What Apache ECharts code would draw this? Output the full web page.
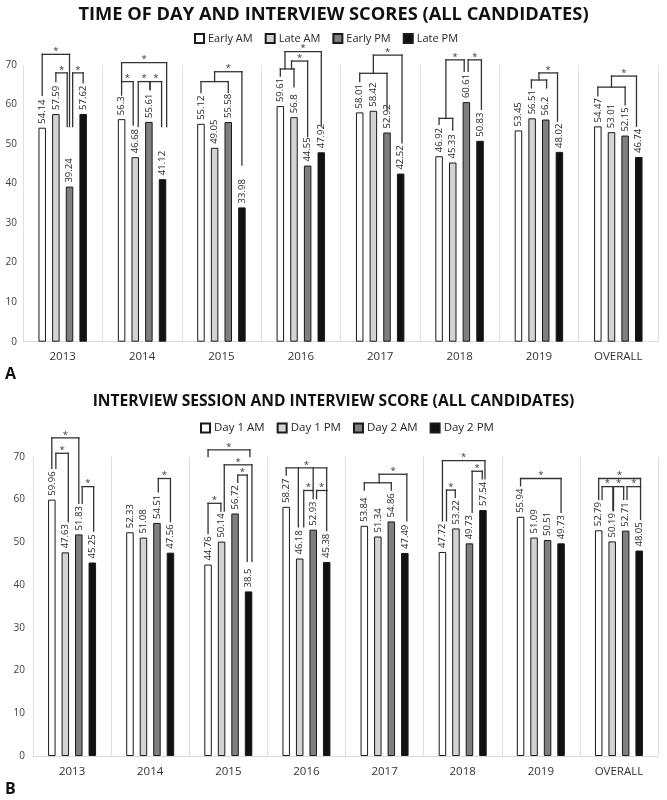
<!DOCTYPE html>
<html><head><meta charset="utf-8">
<script src="https://cdn.jsdelivr.net/npm/echarts@6/dist/echarts.min.js"></script>
<style>html,body{margin:0;padding:0;background:#fff}#c{width:667px;height:800px}</style>
</head><body><div id="c"></div>
<script>
// ---------- data ----------
const categories = ['2013', '2014', '2015', '2016', '2017', '2018', '2019', 'OVERALL'];
const yMin = 0, yMax = 70, yStep = 10;

const titleA = 'TIME OF DAY AND INTERVIEW SCORES (ALL CANDIDATES)';
const namesA = ['Early AM', 'Late AM', 'Early PM', 'Late PM'];
const earlyAM = [54.14, 56.3, 55.12, 59.61, 58.01, 46.92, 53.45, 54.47];
const lateAM  = [57.59, 46.68, 49.05, 56.8, 58.42, 45.33, 56.51, 53.01];
const earlyPM = [39.24, 55.61, 55.58, 44.55, 52.92, 60.61, 56.2, 52.15];
const latePM  = [57.62, 41.12, 33.98, 47.92, 42.52, 50.83, 48.02, 46.74];

const titleB = 'INTERVIEW SESSION AND INTERVIEW SCORE (ALL CANDIDATES)';
const namesB = ['Day 1 AM', 'Day 1 PM', 'Day 2 AM', 'Day 2 PM'];
const day1AM = [59.96, 52.33, 44.76, 58.27, 53.84, 47.72, 55.94, 52.79];
const day1PM = [47.63, 51.08, 50.14, 46.18, 51.34, 53.22, 51.09, 50.19];
const day2AM = [51.83, 54.51, 56.72, 52.93, 54.86, 49.73, 50.51, 52.71];
const day2PM = [45.25, 47.56, 38.5, 45.38, 47.49, 57.54, 49.73, 48.05];

// significance brackets: [category, top value, star, [[bar position, leg bottom value], ...]]
const bracketsA = [
  [0, 72.7, 1, [[0, 62.3], [2, 54.4]]],
  [0, 68.0, 1, [[1, 65.8], [1.83, 54.4]]],
  [0, 68.0, 1, [[2.23, 54.4], [3, 65.5]]],
  [1, 70.6, 1, [[0, 65.8], [3.3, 54.4]]],
  [1, 65.8, 1, [[0, 62.4], [0.85, 54.8]]],
  [1, 65.8, 1, [[1.22, 54.4], [2.08, 63.8]]],
  [1, 65.8, 1, [[2.08, 63.8], [2.93, 54.4]]],
  [2, 65.8, 0, [[0, 63.0], [2, 63.0]]],
  [2, 68.3, 1, [[1, 65.8], [3, 44.7]]],
  [3, 69.0, 0, [[0, 67.2], [1, 64.5]]],
  [3, 73.4, 1, [[0.34, 69.0], [3, 54.8]]],
  [3, 71.0, 1, [[0.82, 69.0], [2, 51.9]]],
  [4, 67.9, 0, [[0, 65.8], [2, 58.6]]],
  [4, 72.5, 1, [[1, 67.9], [3.1, 50.3]]],
  [5, 56.5, 0, [[0, 55.0], [1, 53.5]]],
  [5, 71.3, 1, [[0.5, 56.5], [1.84, 68.4]]],
  [5, 71.3, 1, [[2.13, 68.4], [3.1, 58.8]]],
  [6, 66.2, 0, [[0.95, 64.2], [2.06, 64.2]]],
  [6, 68.0, 1, [[1.5, 66.2], [2.86, 55.8]]],
  [7, 64.4, 0, [[0, 62.2], [2, 59.9]]],
  [7, 67.2, 1, [[1, 64.4], [2.83, 54.5]]]
];
const bracketsB = [
  [0, 74.4, 1, [[0, 67.3], [2, 59.1]]],
  [0, 70.8, 1, [[0.3, 67.3], [1.22, 54.8]]],
  [0, 63.0, 1, [[2.25, 59.1], [3.1, 52.6]]],
  [1, 64.9, 1, [[2.1, 61.8], [3, 54.8]]],
  [2, 71.6, 1, [[0, 70.0], [3.1, 70.0]]],
  [2, 68.1, 1, [[1.2, 57.3], [3.25, 45.5]]],
  [2, 65.7, 1, [[2.2, 64.0], [2.9, 45.5]]],
  [2, 59.1, 1, [[0, 52.0], [0.95, 57.3]]],
  [3, 67.4, 1, [[0, 65.7], [0.9, 53.6], [2, 62.1], [3, 62.1]]],
  [3, 62.1, 1, [[1.3, 53.6], [2, 60.2]]],
  [3, 62.1, 1, [[2.25, 60.2], [3, 52.7]]],
  [4, 63.9, 0, [[0, 62.2], [2, 62.2]]],
  [4, 65.9, 1, [[1.1, 63.9], [3.15, 55.0]]],
  [5, 69.1, 1, [[0, 55.0], [3.15, 64.8]]],
  [5, 62.2, 1, [[0.3, 55.0], [0.95, 60.5]]],
  [5, 66.6, 1, [[2.2, 57.0], [2.95, 64.8]]],
  [6, 64.9, 1, [[0, 63.2], [3, 57.0]]],
  [7, 64.9, 1, [[0, 60.0], [3.1, 63.0]]],
  [7, 63.0, 1, [[0.25, 60.0], [1.05, 57.4]]],
  [7, 63.0, 1, [[1.1, 57.4], [1.85, 60.0]]],
  [7, 63.0, 1, [[2.1, 60.0], [3.1, 55.3]]]
];

// ---------- styling ----------
const FONT = 'Open Sans';
const fills = ['#ffffff', '#d3d3d3', '#7f7f7f', '#111111'];
const BAR_W = 7.5;
const GAP_A = 0.82, GAP_B = 0.80;

function barSeries(name, data, i, axis, gap) {
  return {
    name: name, type: 'bar', xAxisIndex: axis, yAxisIndex: axis, data: data,
    barWidth: BAR_W, barGap: (gap * 100) + '%',
    itemStyle: { color: fills[i], borderColor: '#1a1a1a', borderWidth: 1 },
    label: {
      show: true, position: 'top', rotate: 90, align: 'left', verticalAlign: 'middle',
      distance: 4, fontSize: 9.5, fontFamily: FONT, color: '#262626'
    },
    emphasis: { disabled: true }
  };
}

function bracketSeries(list, axis, gap) {
  const pitch = BAR_W * (1 + gap);
  return {
    type: 'custom', xAxisIndex: axis, yAxisIndex: axis, silent: true, clip: false, z: 5,
    data: list.map((b, k) => [b[0], b[1], k]),
    encode: { x: 0, y: 1 },
    renderItem: function (params, api) {
      const b = list[api.value(2)];
      const cat = b[0], top = b[1], star = b[2], legs = b[3];
      const c = api.coord([cat, top]);
      const xs = legs.map(l => c[0] + (l[0] - 1.5) * pitch);
      const xmin = Math.min.apply(null, xs), xmax = Math.max.apply(null, xs);
      const st = { stroke: '#333333', lineWidth: 1.3, lineCap: 'square' };
      const ch = [{ type: 'line', shape: { x1: xmin, y1: c[1], x2: xmax, y2: c[1] }, style: st }];
      legs.forEach((l, i) => {
        const yb = api.coord([cat, l[1]])[1];
        ch.push({ type: 'line', shape: { x1: xs[i], y1: c[1], x2: xs[i], y2: yb }, style: st });
      });
      if (star) {
        ch.push({ type: 'text', style: {
          text: '*', x: (xmin + xmax) / 2, y: c[1] - 3, align: 'center', verticalAlign: 'middle',
          fontSize: 9.5, fontFamily: FONT, fontWeight: 'normal', fill: '#333' } });
      }
      return { type: 'group', children: ch };
    }
  };
}

function xAxis(gi) {
  return {
    type: 'category', gridIndex: gi, data: categories,
    axisLine: { lineStyle: { color: '#d9d9d9', width: 1 } },
    axisTick: { show: false },
    axisLabel: { fontSize: 11.5, fontFamily: FONT, color: '#333', margin: gi ? 10 : 9, interval: 0 },
    splitLine: { show: true, interval: 0, lineStyle: { color: '#e0e0e0', width: 1 } }
  };
}
function yAxis(gi) {
  return {
    type: 'value', gridIndex: gi, min: yMin, max: yMax, interval: yStep,
    axisLine: { show: false }, axisTick: { show: false }, splitLine: { show: false },
    axisLabel: { fontSize: 10, fontFamily: FONT, color: '#404040', margin: gi ? 8 : 6 }
  };
}
function legend(names, left, top, size, gap) {
  return {
    data: names, left: left, top: top, itemGap: gap,
    icon: 'rect', itemWidth: 9, itemHeight: 9, selectedMode: false,
    textStyle: { fontSize: size, fontFamily: FONT, color: '#262626', padding: [0, 0, 0, -1] }
  };
}

const chart = echarts.init(document.getElementById('c'), null, { renderer: 'canvas' });
chart.setOption({
  animation: false,
  textStyle: { fontFamily: FONT },
  title: [
    { text: titleA, left: 'center', top: 6, padding: 0,
      textStyle: { fontSize: 18.3, fontWeight: 'bold', fontFamily: FONT, color: '#111' } },
    { text: titleB, left: 'center', top: 394, padding: 0,
      textStyle: { fontSize: 15.6, fontWeight: 'bold', fontFamily: FONT, color: '#111' } },
    { text: 'A', left: 5, top: 366, padding: 0,
      textStyle: { fontSize: 16, fontWeight: 'bold', fontFamily: FONT, color: '#111' } },
    { text: 'B', left: 5, top: 781, padding: 0,
      textStyle: { fontSize: 16, fontWeight: 'bold', fontFamily: FONT, color: '#111' } }
  ],
  legend: [
    legend(namesA, 189, 28, 11, 12),
    legend(namesB, 195, 417, 11.5, 12)
  ],
  grid: [
    { left: 23, right: 9, top: 65, height: 276.7 },
    { left: 33, right: 9, top: 456.7, height: 299.3 }
  ],
  xAxis: [xAxis(0), xAxis(1)],
  yAxis: [yAxis(0), yAxis(1)],
  series: [
    barSeries(namesA[0], earlyAM, 0, 0, GAP_A),
    barSeries(namesA[1], lateAM, 1, 0, GAP_A),
    barSeries(namesA[2], earlyPM, 2, 0, GAP_A),
    barSeries(namesA[3], latePM, 3, 0, GAP_A),
    bracketSeries(bracketsA, 0, GAP_A),
    barSeries(namesB[0], day1AM, 0, 1, GAP_B),
    barSeries(namesB[1], day1PM, 1, 1, GAP_B),
    barSeries(namesB[2], day2AM, 2, 1, GAP_B),
    barSeries(namesB[3], day2PM, 3, 1, GAP_B),
    bracketSeries(bracketsB, 1, GAP_B)
  ]
});
</script></body></html>
